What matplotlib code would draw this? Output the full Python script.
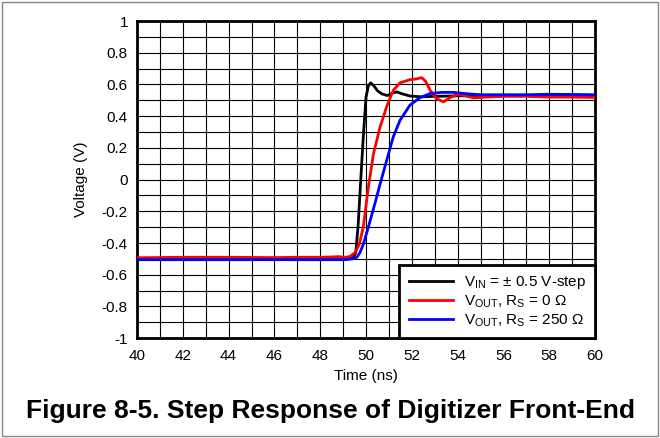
import numpy as np
import matplotlib
matplotlib.use("Agg")
import matplotlib.pyplot as plt
from matplotlib.patches import Rectangle

plt.rcParams['font.family'] = ['Liberation Sans', 'DejaVu Sans']
plt.rcParams['mathtext.fontset'] = 'custom'
plt.rcParams['mathtext.rm'] = 'Liberation Sans'

# V_IN step (black)
t_in = [40, 45, 48, 49, 49.3, 49.45, 49.55, 49.65, 49.75, 49.88, 50.0, 50.1, 50.2,
        50.35, 50.5, 50.7, 50.93, 51.15, 51.34, 51.6, 51.92, 52.4, 53, 54, 56, 58, 60]
v_in = [-0.505, -0.505, -0.505, -0.505, -0.50, -0.49, -0.46, -0.30, -0.05, 0.27, 0.52, 0.59, 0.61,
        0.59, 0.56, 0.54, 0.53, 0.545, 0.553, 0.54, 0.527, 0.522, 0.525, 0.528, 0.53, 0.53, 0.53]

# V_OUT, Rs = 0 ohm (red)
t_r0 = [40, 42, 44, 46, 47, 48, 48.5, 48.8, 49.1, 49.3, 49.52, 49.7, 49.88, 50.1, 50.32, 50.61,
        50.9, 51.19, 51.48, 51.92, 52.2, 52.43, 52.6, 52.8, 53.09, 53.38, 53.67, 53.96, 54.3,
        54.69, 55.2, 56, 57, 58, 59, 60]
v_r0 = [-0.493, -0.49, -0.49, -0.492, -0.49, -0.49, -0.488, -0.486, -0.49, -0.485, -0.46, -0.41,
        -0.30, -0.05, 0.16, 0.33, 0.46, 0.563, 0.61, 0.63, 0.635, 0.643, 0.62, 0.563, 0.51, 0.49,
        0.517, 0.536, 0.53, 0.515, 0.52, 0.525, 0.525, 0.52, 0.52, 0.518]

# V_OUT, Rs = 250 ohm (blue)
t_r250 = [40, 44, 48, 49, 49.4, 49.6, 49.74, 49.9, 50.1, 50.39, 50.61, 50.9, 51.19, 51.48, 51.92,
          52.36, 52.8, 53.3, 53.8, 54.5, 55, 56, 57, 58, 59, 60]
v_r250 = [-0.505, -0.505, -0.505, -0.505, -0.50, -0.49, -0.46, -0.40, -0.30, -0.15, -0.03, 0.12,
          0.27, 0.373, 0.47, 0.517, 0.543, 0.55, 0.55, 0.54, 0.535, 0.535, 0.535, 0.538, 0.537, 0.535]

labels = [r'V$_{\mathregular{IN}}$ = ± 0.5 V-step',
          r'V$_{\mathregular{OUT}}$, R$_{\mathregular{S}}$ = 0 Ω',
          r'V$_{\mathregular{OUT}}$, R$_{\mathregular{S}}$ = 250 Ω']

fig = plt.figure(figsize=(6.6, 4.38), dpi=100)
ax = fig.add_axes([0.2076, 0.228, 0.694, 0.724])

ax.plot(t_in, v_in, color='black', lw=2, label=labels[0], zorder=3)
ax.plot(t_r0, v_r0, color='red', lw=2, label=labels[1], zorder=3)
ax.plot(t_r250, v_r250, color='blue', lw=2, label=labels[2], zorder=4)

ax.set_xlim(40, 60)
ax.set_ylim(-1, 1)
ax.set_xticks(np.arange(40, 61, 2))
ax.set_xticks(np.arange(40, 61, 1), minor=True)
ax.set_yticks(np.arange(-1, 1.01, 0.2))
ax.set_yticks(np.arange(-1, 1.01, 0.1), minor=True)
ax.set_yticklabels(['-1', '-0.8', '-0.6', '-0.4', '-0.2', '0', '0.2', '0.4', '0.6', '0.8', '1'])
ax.grid(True, which='both', color='black', lw=0.8)
ax.tick_params(which='both', length=0, labelsize=11)
ax.tick_params(axis='x', pad=8)
ax.tick_params(axis='y', pad=6.5)
for s in ax.spines.values():
    s.set_linewidth(2)

ax.set_xlabel('Time (ns)', fontsize=11, labelpad=4)
ax.set_ylabel('Voltage (V)', fontsize=11, labelpad=10)

leg = ax.legend(loc='lower right', fontsize=11, fancybox=False, framealpha=1,
                edgecolor='black', borderaxespad=0, handlelength=2.9,
                borderpad=0.6, labelspacing=0.15, handletextpad=0.7)
leg.get_frame().set_linewidth(2)

fig.text(0.5, 0.062, 'Figure 8-5. Step Response of Digitizer Front-End',
         ha='center', va='center', fontsize=19, fontweight='bold')

fig.patches.append(Rectangle((0.003, 0.005), 0.994, 0.99, transform=fig.transFigure,
                             fill=False, edgecolor='#888888', lw=1))

fig.savefig('out.png', dpi=100)
